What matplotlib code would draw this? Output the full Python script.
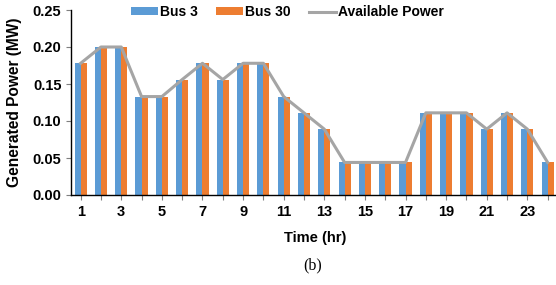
import numpy as np
import matplotlib.pyplot as plt

# data
hours = np.arange(1, 25)
bus3 = [0.178, 0.200, 0.200, 0.133, 0.133, 0.156, 0.178, 0.156, 0.178, 0.178, 0.133, 0.111,
        0.089, 0.044, 0.044, 0.044, 0.044, 0.111, 0.111, 0.111, 0.089, 0.111, 0.089, 0.044]
bus30 = [0.178, 0.200, 0.200, 0.133, 0.133, 0.156, 0.178, 0.156, 0.178, 0.178, 0.133, 0.111,
         0.089, 0.044, 0.044, 0.044, 0.044, 0.111, 0.111, 0.111, 0.089, 0.111, 0.089, 0.044]
available = [0.178, 0.200, 0.200, 0.133, 0.133, 0.156, 0.178, 0.156, 0.178, 0.178, 0.133, 0.111,
             0.089, 0.044, 0.044, 0.044, 0.044, 0.111, 0.111, 0.111, 0.089, 0.111, 0.089, 0.044]
tick_hours = [1, 3, 5, 7, 9, 11, 13, 15, 17, 19, 21, 23]

plt.rcParams['font.family'] = ['Liberation Sans', 'DejaVu Sans']
plt.rcParams['font.weight'] = 'bold'

W, H = 556, 285
fig = plt.figure(figsize=(W / 100, H / 100), dpi=100)
ax = fig.add_axes([70.5 / W, 1 - 195 / H, 487.3 / W, 185 / H])

w = 0.3
b1 = ax.bar(hours - w / 2, bus3, width=w, color='#5B9BD5', label='Bus 3')
b2 = ax.bar(hours + w / 2, bus30, width=w, color='#ED7D31', label='Bus 30')
ln, = ax.plot(hours, available, color='#A5A5A5', linewidth=2.2, label='Available Power', zorder=3)

ax.set_xlim(0.5, 24.5)
ax.set_ylim(0, 0.25)
ax.set_yticks(np.arange(0, 0.251, 0.05))
ax.set_yticklabels([f'{v:.2f}' for v in np.arange(0, 0.251, 0.05)], fontsize=10.5, fontweight='bold')
ax.set_xticks(hours, minor=True)
ax.set_xticks(tick_hours)
ax.set_xticklabels([str(h) for h in tick_hours], fontsize=10.5, fontweight='bold')
ax.tick_params(axis='x', which='both', length=3.5, width=0.8, color='#7f7f7f', pad=4)
ax.tick_params(axis='y', length=3.5, width=0.8, color='#7f7f7f', pad=3)

for s in ['top', 'right']:
    ax.spines[s].set_visible(False)
ax.spines['left'].set_linewidth(1.0)
ax.spines['bottom'].set_linewidth(1.0)

fig.text(15 / W, 1 - 102 / H, 'Generated Power (MW)', rotation=90, ha='center', va='center',
         fontsize=11.2, fontweight='bold')
fig.text(315 / W, 1 - 238 / H, 'Time (hr)', ha='center', va='center', fontsize=10.5, fontweight='bold')
fig.text(313 / W, 1 - 265 / H, '(b)', ha='center', va='center', fontsize=11.5, fontweight='normal',
         family=['Liberation Serif', 'DejaVu Serif'])

ax.legend([b1, b2, ln], ['Bus 3', 'Bus 30', 'Available Power'],
          loc='center', bbox_to_anchor=(287.5 / W, 1 - 12 / H), bbox_transform=fig.transFigure,
          ncol=3, frameon=False, handlelength=1.95, handleheight=0.5,
          handletextpad=0.15, columnspacing=1.3, borderpad=0, prop={'weight': 'bold', 'size': 10})

fig.savefig('out.png', dpi=100)
